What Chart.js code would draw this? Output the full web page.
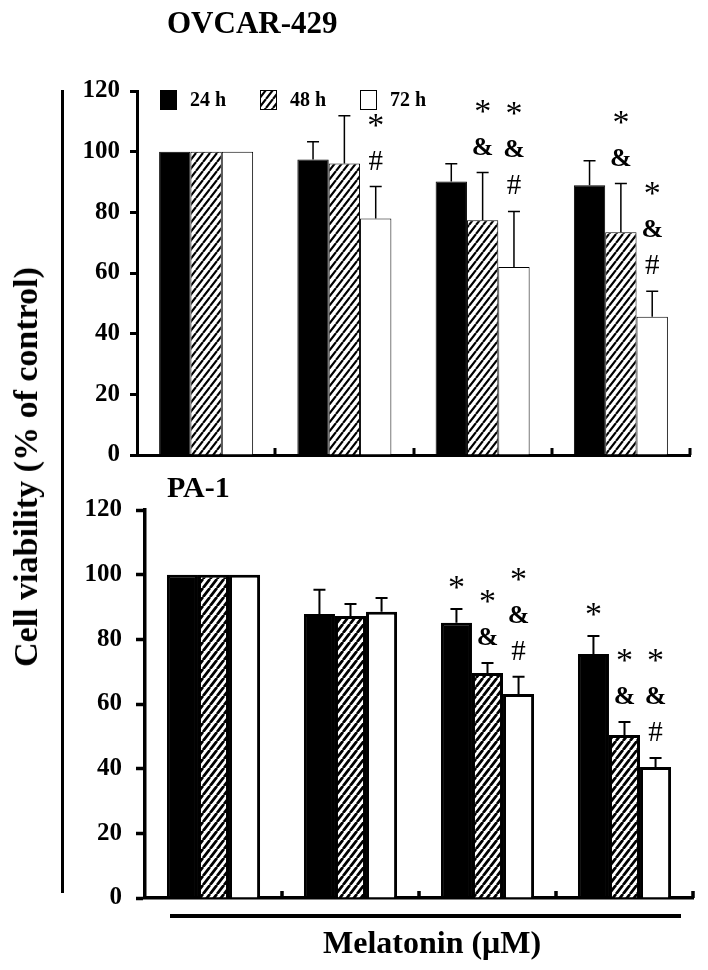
<!DOCTYPE html>
<html><head><meta charset="utf-8">
<script src="https://cdn.jsdelivr.net/npm/chart.js@4"></script>
<style>
html,body{margin:0;padding:0;background:#fff;width:708px;height:970px;overflow:hidden;}
#wrap{position:relative;width:708px;height:970px;background:#fff;}
canvas{position:absolute;}
.t{position:absolute;font-family:"Liberation Serif","Times New Roman",serif;font-weight:bold;color:#000;white-space:nowrap;}
</style></head><body>
<div id="wrap">
<canvas id="c1" width="708" height="480" style="left:0;top:0;width:708px;height:480px"></canvas>
<canvas id="c2" width="708" height="490" style="left:0;top:480px;width:708px;height:490px"></canvas>
<div class="t" style="left:167px;top:7px;font-size:31px;line-height:31px;">OVCAR-429</div>
<div class="t" style="left:167px;top:472px;font-size:30px;line-height:30px;">PA-1</div>
<div style="position:absolute;left:61px;top:90px;width:3px;height:803px;background:#000"></div>
<div style="position:absolute;left:170px;top:914px;width:511px;height:4px;background:#000"></div>
<div class="t" style="left:323px;top:926px;font-size:32px;line-height:32px;">Melatonin (μM)</div>
<div class="t" style="left:26px;top:467px;font-size:34px;line-height:34px;transform:translate(-50%,-50%) rotate(-90deg);">Cell viability (% of control)</div>
</div>
<script>
// ---- data ----
const categories = ['Control', 'Dose 1', 'Dose 2', 'Dose 3'];
const seriesLabels = ['24 h', '48 h', '72 h'];
const yTicks = [0, 20, 40, 60, 80, 100, 120];

const ovcar24 = [100, 97.4, 90.2, 88.9];
const ovcar48 = [100, 96.1, 77.4, 73.4];
const ovcar72 = [100, 78.0, 62.0, 45.6];
const ovcar24Err = [0, 5.9, 5.8, 8.1];
const ovcar48Err = [0, 15.7, 15.7, 16.1];
const ovcar72Err = [0, 10.5, 18.3, 8.4];
const ovcar24Marks = ['', '', '', ''];
const ovcar48Marks = ['', '', '*&', '*&'];
const ovcar72Marks = ['', '*#', '*&#', '*&#'];

const pa24 = [100, 87.8, 85.1, 75.5];
const pa48 = [100, 87.2, 69.6, 50.4];
const pa72 = [100, 88.5, 63.1, 40.5];
const pa24Err = [0, 7.5, 4.3, 5.5];
const pa48Err = [0, 3.7, 3.1, 4.0];
const pa72Err = [0, 4.3, 5.3, 2.8];
const pa24Marks = ['', '', '*', '*'];
const pa48Marks = ['', '', '*&', '*&'];
const pa72Marks = ['', '', '*&#', '*&#'];

// ---- styling helpers ----
function hatch(lw) {
  const w = 7, h = 9;
  const c = document.createElement('canvas');
  c.width = w; c.height = h;
  const g = c.getContext('2d');
  g.fillStyle = '#fff'; g.fillRect(0, 0, w, h);
  g.strokeStyle = '#000'; g.lineWidth = lw;
  g.beginPath();
  for (let k = -1; k <= 1; k++) { g.moveTo(k * w, h); g.lineTo(k * w + w, 0); }
  g.stroke();
  return g.createPattern(c, 'repeat');
}

const symStyle = {
  '*': {font: 'normal 34px "Liberation Serif"', dy: 16},
  '&': {font: 'bold 26px "Liberation Serif"', dy: 9},
  '#': {font: 'normal 29px "Liberation Serif"', dy: 10}
};

const decor = {
  id: 'decor',
  afterDatasetsDraw(chart) {
    const o = chart.options.plugins.decor;
    const ctx = chart.ctx, ys = chart.scales.y, xs = chart.scales.x, ca = chart.chartArea;
    ctx.save();
    const half = (xs.getPixelForValue(1) - xs.getPixelForValue(0)) / 2;
    ctx.strokeStyle = '#000'; ctx.lineWidth = o.axisW;
    ctx.beginPath();
    for (let i = 0; i < chart.data.labels.length; i++) {
      const xx = Math.round(xs.getPixelForValue(i) + half);
      ctx.moveTo(xx, ca.bottom); ctx.lineTo(xx, ca.bottom - 7);
    }
    ctx.stroke();
    chart.data.datasets.forEach((ds, i) => {
      const meta = chart.getDatasetMeta(i);
      meta.data.forEach((bar, j) => {
        const e = ds.err[j];
        const yt = ys.getPixelForValue(ds.data[j] + e);
        if (e > 0) {
          const yb = ys.getPixelForValue(ds.data[j]);
          ctx.strokeStyle = '#000'; ctx.lineWidth = o.errW;
          ctx.beginPath();
          ctx.moveTo(bar.x, yb); ctx.lineTo(bar.x, yt);
          ctx.moveTo(bar.x - 6, yt); ctx.lineTo(bar.x + 6, yt);
          ctx.stroke();
        }
        const s = ds.marks[j];
        if (s) {
          let c = yt - 27;
          for (let k = s.length - 1; k >= 0; k--) {
            const st = symStyle[s[k]];
            ctx.font = st.font; ctx.fillStyle = '#000';
            ctx.textAlign = 'center'; ctx.textBaseline = 'alphabetic';
            ctx.fillText(s[k], bar.x, c + st.dy);
            if (k > 0) c -= (s[k - 1] === '*' ? 40 : 36);
          }
        }
      });
    });
    if (o.legend) {
      chart.data.datasets.forEach((ds, i) => {
        const bx = ca.left + 23 + i * 100, by = ca.top - 1;
        ctx.fillStyle = ds.backgroundColor;
        ctx.fillRect(bx, by, 17, 20);
        ctx.strokeStyle = '#000'; ctx.lineWidth = 1;
        ctx.strokeRect(bx + 0.5, by + 0.5, 16, 19);
        ctx.fillStyle = '#000';
        ctx.font = 'bold 20px "Liberation Serif"';
        ctx.textAlign = 'left'; ctx.textBaseline = 'middle';
        ctx.fillText(ds.label, bx + 30, by + 11);
      });
    }
    ctx.restore();
  }
};

function build(id, p) {
  const pat = hatch(p.hatchW);
  const series = [p.d24, p.d48, p.d72];
  const errs = [p.e24, p.e48, p.e72];
  const marks = [p.m24, p.m48, p.m72];
  const fills = ['#000', pat, '#fff'];
  return new Chart(document.getElementById(id), {
    type: 'bar',
    data: {
      labels: categories,
      datasets: series.map((d, i) => ({
        label: seriesLabels[i], data: d, err: errs[i], marks: marks[i],
        backgroundColor: fills[i], borderColor: '#000', borderWidth: p.barBorder,
        categoryPercentage: 0.68, barPercentage: 1
      }))
    },
    options: {
      responsive: false, animation: false, devicePixelRatio: 1,
      layout: {padding: {top: p.padTop, bottom: p.padBottom, right: p.padRight, left: 0}},
      plugins: {
        legend: {display: false}, tooltip: {enabled: false},
        decor: {legend: p.legend, axisW: p.axisW, errW: p.errW}
      },
      scales: {
        x: {
          ticks: {display: false},
          grid: {display: true, drawOnChartArea: false, drawTicks: false, color: 'rgba(0,0,0,0)'},
          border: {display: true, color: '#000', width: p.axisW},
          afterFit: s => { s.height = 0; }
        },
        y: {
          min: 0, max: 120,
          afterBuildTicks: s => { s.ticks = yTicks.map(v => ({value: v})); },
          ticks: {font: {family: 'Liberation Serif', weight: 'bold', size: 25}, color: '#000', padding: p.tickPad},
          grid: {display: true, drawOnChartArea: false, drawTicks: true, tickLength: p.tickLen, tickWidth: p.axisW, tickColor: '#000', color: '#000'},
          border: {display: true, color: '#000', width: p.axisW},
          afterFit: s => { s.width = p.axisLeft; }
        }
      }
    },
    plugins: [decor]
  });
}

build('c1', {
  d24: ovcar24, d48: ovcar48, d72: ovcar72,
  e24: ovcar24Err, e48: ovcar48Err, e72: ovcar72Err,
  m24: ovcar24Marks, m48: ovcar48Marks, m72: ovcar72Marks,
  hatchW: 2.2, barBorder: 1, axisW: 3, errW: 1.5, legend: true,
  padTop: 91, padBottom: 23, padRight: 18, axisLeft: 137, tickPad: 10, tickLen: 7
});
build('c2', {
  d24: pa24, d48: pa48, d72: pa72,
  e24: pa24Err, e48: pa48Err, e72: pa72Err,
  m24: pa24Marks, m48: pa48Marks, m72: pa72Marks,
  hatchW: 2.8, barBorder: 3, axisW: 3.5, errW: 2, legend: false,
  padTop: 30, padBottom: 72, padRight: 15, axisLeft: 145, tickPad: 14, tickLen: 9
});
</script>
</body></html>
